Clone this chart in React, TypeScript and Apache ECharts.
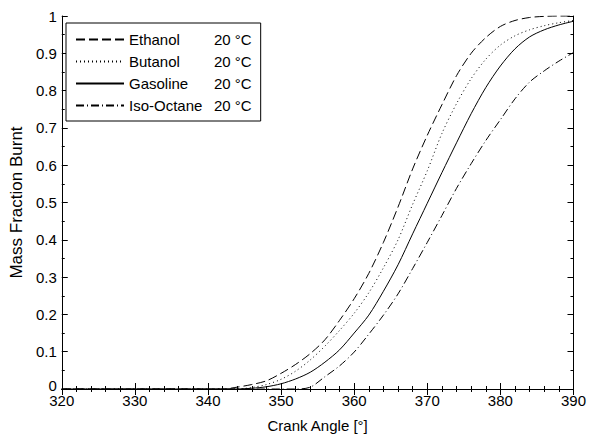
import React, { useEffect, useRef } from "react";
import * as echarts from "echarts";

const angles = [320, 322, 324, 326, 328, 330, 332, 334, 336, 338, 340, 342, 344, 346, 348, 350, 352, 354, 356, 358, 360, 362, 364, 366, 368, 370, 372, 374, 376, 378, 380, 382, 384, 386, 388, 390];

const ethanol = [0, 0, 0, 0, 0, 0, 0, 0, 0, 0, 0, 0, 0.005, 0.012, 0.022, 0.042, 0.066, 0.095, 0.132, 0.184, 0.242, 0.31, 0.393, 0.488, 0.59, 0.68, 0.762, 0.84, 0.9, 0.942, 0.972, 0.988, 0.996, 0.999, 1.0, 1.0];
const butanol = [0, 0, 0, 0, 0, 0, 0, 0, 0, 0, 0, 0, 0, 0.004, 0.012, 0.026, 0.048, 0.078, 0.115, 0.157, 0.203, 0.258, 0.325, 0.4, 0.495, 0.585, 0.685, 0.765, 0.832, 0.884, 0.922, 0.947, 0.963, 0.974, 0.982, 0.988];
const gasoline = [0, 0, 0, 0, 0, 0, 0, 0, 0, 0, 0, 0, 0, 0.002, 0.006, 0.014, 0.027, 0.045, 0.072, 0.105, 0.15, 0.198, 0.262, 0.333, 0.416, 0.498, 0.58, 0.66, 0.738, 0.808, 0.866, 0.912, 0.944, 0.963, 0.976, 0.986];
const isoOctane = [0, 0, 0, 0, 0, 0, 0, 0, 0, 0, 0, 0, 0, 0, 0, 0, 0, 0.005, 0.033, 0.062, 0.099, 0.147, 0.198, 0.255, 0.323, 0.393, 0.465, 0.538, 0.604, 0.666, 0.722, 0.778, 0.823, 0.853, 0.879, 0.902];

const seriesNames = ["Ethanol", "Butanol", "Gasoline", "Iso-Octane"];
const temperatureLabel = "20 °C";

const FONT = "'Liberation Sans', Arial, Helvetica, sans-serif";

export default function App() {
  const ref = useRef<HTMLDivElement>(null);

  useEffect(() => {
    document.body.style.margin = "0";
    if (!ref.current) return;
    const chart = echarts.init(ref.current, undefined, { renderer: "svg" });

    const values = [ethanol, butanol, gasoline, isoOctane];
    const dashes: any[] = [[9, 4], [1, 3], "solid", [8, 3, 1, 3]];

    const series = seriesNames.map((name, i) => ({
      name,
      type: "line",
      data: angles.map((a, j) => [a, values[i][j]]),
      symbol: "none",
      showSymbol: false,
      smooth: 0.3,
      lineStyle: { color: "#000", width: 1, type: dashes[i] },
      itemStyle: { color: "#000" },
      xAxisIndex: 0,
      yAxisIndex: 0,
    }));

    const axisCommon = {
      axisLine: { show: true, lineStyle: { color: "#000", width: 1 } },
      axisTick: { show: true, inside: true, length: 6, lineStyle: { color: "#000" } },
      splitLine: { show: false },
      minorSplitLine: { show: false },
    };

    const xMinor = { show: true, splitNumber: 5, length: 3, lineStyle: { color: "#000" } };
    const yMinor = { show: true, splitNumber: 2, length: 3, lineStyle: { color: "#000" } };

    chart.setOption({
      animation: false,
      backgroundColor: "#fff",
      textStyle: { fontFamily: FONT },
      grid: { left: 58, right: 12, top: 16, bottom: 41, containLabel: false },
      xAxis: [
        {
          type: "value",
          min: 320,
          max: 390,
          interval: 10,
          position: "bottom",
          name: "Crank Angle [°]",
          nameLocation: "middle",
          nameGap: 29,
          nameTextStyle: { color: "#000", fontSize: 15, fontFamily: FONT },
          axisLabel: { color: "#000", fontSize: 15, fontFamily: FONT, margin: 4 },
          ...axisCommon,
          minorTick: xMinor,
        },
        {
          type: "value",
          min: 320,
          max: 390,
          interval: 10,
          position: "top",
          axisLabel: { show: false },
          ...axisCommon,
          minorTick: xMinor,
        },
      ],
      yAxis: [
        {
          type: "value",
          min: 0,
          max: 1,
          interval: 0.1,
          position: "left",
          name: "Mass Fraction Burnt",
          nameLocation: "middle",
          nameGap: 25,
          nameTextStyle: { color: "#000", fontSize: 17, fontFamily: FONT },
          axisLabel: {
            color: "#000",
            fontSize: 15,
            fontFamily: FONT,
            margin: 5,
            formatter: (v: number) => {
              const s = String(+v.toFixed(1));
              return v === 0 ? `{z|${s}}` : s;
            },
            rich: {
              z: { fontSize: 15, fontFamily: FONT, color: "#000", padding: [0, 0, 8, 0] },
            },
          },
          ...axisCommon,
          minorTick: yMinor,
        },
        {
          type: "value",
          min: 0,
          max: 1,
          interval: 0.1,
          position: "right",
          axisLabel: { show: false },
          ...axisCommon,
          minorTick: yMinor,
        },
      ],
      legend: {
        show: true,
        orient: "vertical",
        left: 66,
        top: 23,
        data: seriesNames,
        backgroundColor: "#fff",
        borderColor: "#000",
        borderWidth: 1,
        borderRadius: 0,
        padding: [9, 9, 8, 9],
        itemWidth: 48,
        itemHeight: 14,
        itemGap: 7,
        selectedMode: false,
        itemStyle: { opacity: 0 },
        textStyle: {
          color: "#000",
          fontSize: 15,
          fontFamily: FONT,
          rich: {
            a: { width: 85, fontSize: 15, fontFamily: FONT, color: "#000" },
            b: { fontSize: 15, fontFamily: FONT, color: "#000" },
          },
        },
        formatter: (name: string) => `{a|${name}}{b|${temperatureLabel}}`,
      },
      series,
    });

    return () => {
      chart.dispose();
    };
  }, []);

  return <div ref={ref} style={{ width: 589, height: 438 }} />;
}
